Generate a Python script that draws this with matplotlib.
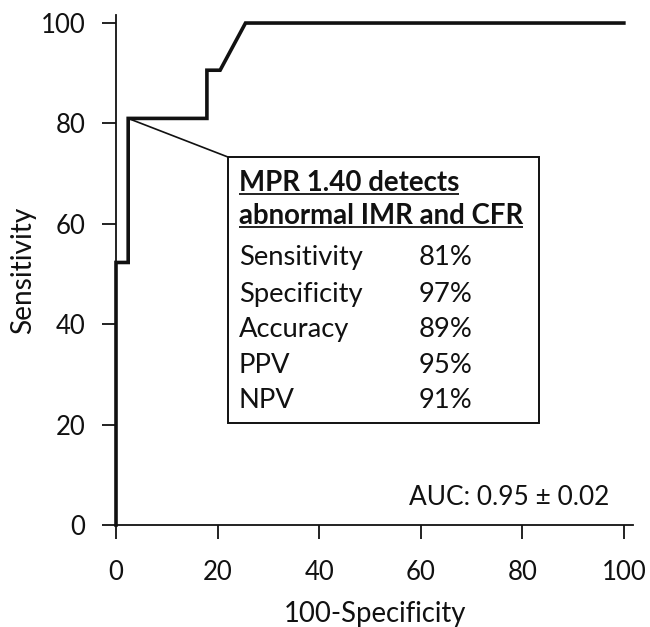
import matplotlib
matplotlib.use("Agg")
import matplotlib.pyplot as plt
from matplotlib.patches import Rectangle

# ROC curve points (100-Specificity, Sensitivity)
fpr = [0, 0, 2.4, 2.4, 17.9, 17.9, 20.5, 25.5, 100]
tpr = [0, 52.3, 52.3, 81.0, 81.0, 90.6, 90.6, 100, 100]

ticks = [0, 20, 40, 60, 80, 100]
box_title = ["MPR 1.40 detects", "abnormal IMR and CFR"]
metric_names = ["Sensitivity", "Specificity", "Accuracy", "PPV", "NPV"]
metric_values = ["81%", "97%", "89%", "95%", "91%"]
auc_text = "AUC: 0.95 \u00b1 0.02"

plt.rcParams['font.family'] = ['Lato', 'DejaVu Sans']

W, H = 650, 627
fig = plt.figure(figsize=(6.5, 6.27), dpi=100)
ax = fig.add_axes([116 / W, 1 - 525 / H, (633 - 116) / W, (525 - 15) / H])
ax.set_xlim(0, 101.8)
ax.set_ylim(0, 101.6)

ax.plot(fpr, tpr, color='#111111', lw=2.6, solid_joinstyle='miter', clip_on=False, zorder=3)

for s in ['top', 'right']:
    ax.spines[s].set_visible(False)
for s in ['left', 'bottom']:
    ax.spines[s].set_linewidth(1.3)
    ax.spines[s].set_color('#111111')

ax.set_xticks(ticks)
ax.set_yticks(ticks)
ax.tick_params(axis='both', direction='out', length=10, width=1.3, color='#111111',
               labelsize=18.5, labelcolor='#111111')
ax.tick_params(axis='x', pad=15)
ax.tick_params(axis='y', pad=12)

ax.set_xlabel("100-Specificity", fontsize=19.8, labelpad=11.5, color='#111111')
ax.set_ylabel("Sensitivity", fontsize=20.2, labelpad=3, color='#111111')

# Box (in pixel-derived data coordinates)
def px2x(px):
    return (px - 116) / 5.08

def py2y(py):
    return (525 - py) / 5.02

bx0, bx1 = px2x(228), px2x(539)
by0, by1 = py2y(423), py2y(157)
ax.add_patch(Rectangle((bx0, by0), bx1 - bx0, by1 - by0, fill=False,
                       edgecolor='#111111', lw=1.4, zorder=4))
# Connector line from the cut-off point to box corner
ax.plot([fpr[3], bx0], [tpr[3], by1], color='#111111', lw=1.2, zorder=4)

tx = px2x(239)
vx = px2x(419)
title_baselines = [190.5, 224]
row_baselines = [265, 301.5, 337, 372.5, 408]

fig.canvas.draw()
renderer = fig.canvas.get_renderer()
for t, b in zip(box_title, title_baselines):
    txt = ax.text(tx, py2y(b), t, fontsize=19.9, fontweight='bold', ha='left', va='baseline',
                  color='#111111', zorder=5)
    bb = txt.get_window_extent(renderer=renderer)
    inv = ax.transData.inverted()
    (x0, _), (x1, _) = inv.transform([(bb.x0, 0), (bb.x1, 0)])
    uy = py2y(b + 3)
    ax.plot([x0, x1], [uy, uy], color='#111111', lw=1.3, zorder=5, solid_capstyle='butt')

for n, v, b in zip(metric_names, metric_values, row_baselines):
    ax.text(tx, py2y(b), n, fontsize=19.7, ha='left', va='baseline', color='#111111', zorder=5)
    ax.text(vx, py2y(b), v, fontsize=19.7, ha='left', va='baseline', color='#111111', zorder=5)

ax.text(px2x(610), py2y(505), auc_text, fontsize=18.9, ha='right', va='baseline', color='#111111')

fig.savefig("out.png", dpi=100)
